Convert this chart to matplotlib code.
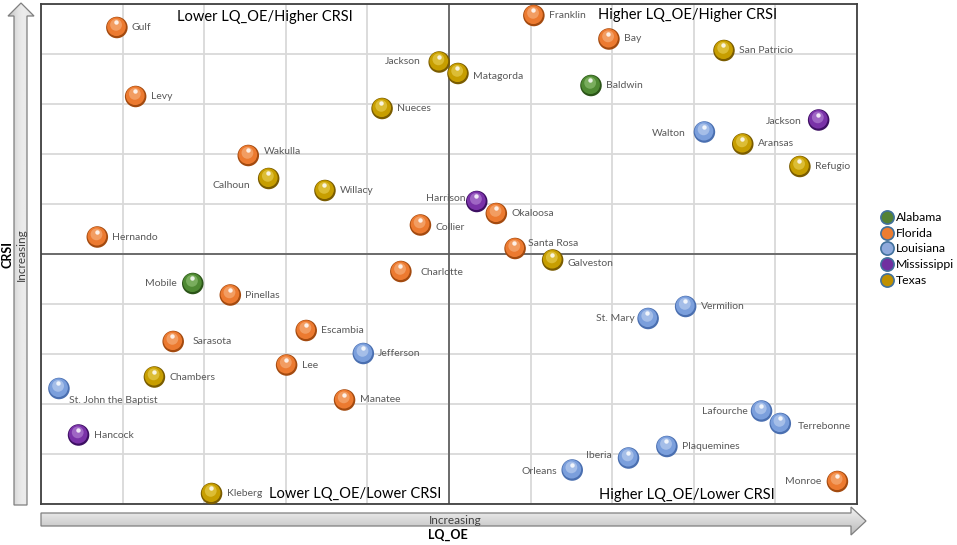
import numpy as np
import matplotlib
matplotlib.use("Agg")
import matplotlib.pyplot as plt
from matplotlib import transforms
from matplotlib.patches import Polygon
from matplotlib.lines import Line2D

plt.rcParams['font.family'] = ['Lato', 'DejaVu Sans']

# county data (LQ_OE on x, CRSI on y, both on a 0-10 grid)
counties = ['Gulf', 'Levy', 'Wakulla', 'Calhoun', 'Willacy', 'Nueces', 'Jackson',
            'Matagorda', 'Harrison', 'Collier', 'Hernando', 'Franklin', 'Bay',
            'San Patricio', 'Baldwin', 'Walton', 'Jackson', 'Aransas', 'Refugio',
            'Okaloosa', 'Santa Rosa', 'Galveston', 'Charlotte', 'Mobile', 'Pinellas',
            'Escambia', 'Sarasota', 'Jefferson', 'Lee', 'Chambers',
            'St. John the Baptist', 'Manatee', 'Hancock', 'Kleberg', 'St. Mary',
            'Vermilion', 'Lafourche', 'Terrebonne', 'Plaquemines', 'Iberia',
            'Orleans', 'Monroe']
states = ['Florida', 'Florida', 'Florida', 'Texas', 'Texas', 'Texas', 'Texas',
          'Texas', 'Mississippi', 'Florida', 'Florida', 'Florida', 'Florida',
          'Texas', 'Alabama', 'Louisiana', 'Mississippi', 'Texas', 'Texas',
          'Florida', 'Florida', 'Texas', 'Florida', 'Alabama', 'Florida',
          'Florida', 'Florida', 'Louisiana', 'Florida', 'Texas',
          'Louisiana', 'Florida', 'Mississippi', 'Texas', 'Louisiana',
          'Louisiana', 'Louisiana', 'Louisiana', 'Louisiana', 'Louisiana',
          'Louisiana', 'Florida']
lq_oe = [0.93, 1.16, 2.54, 2.79, 3.48, 4.18, 4.88, 5.11, 5.34, 4.65, 0.69, 6.04,
         6.96, 8.37, 6.74, 8.13, 9.53, 8.60, 9.30, 5.58, 5.81, 6.27, 4.41, 1.86,
         2.32, 3.25, 1.62, 3.95, 3.01, 1.39, 0.22, 3.72, 0.46, 2.09, 7.44, 7.90,
         8.83, 9.06, 7.67, 7.20, 6.51, 9.76]
crsi = [9.53, 8.15, 6.97, 6.51, 6.27, 7.91, 8.84, 8.61, 6.05, 5.58, 5.34, 9.77,
        9.30, 9.07, 8.37, 7.44, 7.68, 7.20, 6.75, 5.81, 5.11, 4.88, 4.65, 4.41,
        4.18, 3.47, 3.25, 3.01, 2.78, 2.54, 2.31, 2.08, 1.38, 0.21, 3.71, 3.95,
        1.86, 1.61, 1.15, 0.92, 0.68, 0.45]
state_names = ['Alabama', 'Florida', 'Louisiana', 'Mississippi', 'Texas']
quadrants = ['Lower LQ_OE/Higher CRSI', 'Higher LQ_OE/Higher CRSI',
             'Lower LQ_OE/Lower CRSI', 'Higher LQ_OE/Lower CRSI']

# sphere colours: (dark rim, body, highlight)
sphere = {'Alabama': ('#2b5418', '#4f8a33', '#a3d088'),
          'Florida': ('#a34a0f', '#ec7a30', '#f9c195'),
          'Louisiana': ('#4a6fb0', '#7b9fdc', '#d0def5'),
          'Mississippi': ('#3d0f62', '#7a32a8', '#c49be0'),
          'Texas': ('#7a5c00', '#c79e00', '#f2dc6a')}
flat = {'Alabama': '#548235', 'Florida': '#ed7d31', 'Louisiana': '#8faadc',
        'Mississippi': '#7030a0', 'Texas': '#bf9000'}

# label placement (pixels from marker centre); default is to the right
lab_off = {2: (16, 4), 3: (-19, -7, 'r'), 6: (-19, 0, 'r'), 7: (15, -3),
           8: (-11, 3, 'r'), 9: (15, -3), 15: (-19, -1, 'r'), 16: (-17, -2, 'r'),
           20: (13, 5), 21: (15, -4), 22: (20, -1), 23: (-16, 0, 'r'),
           26: (19, 0), 30: (10, -12), 34: (-13, 0, 'r'), 36: (-14, -1, 'r'),
           37: (17, -3), 39: (-17, 2, 'r'), 40: (-15, -1, 'r'), 41: (-16, 0, 'r')}

fig = plt.figure(figsize=(9.57, 5.45), dpi=100)

# decoration layer in pixel coordinates
deco = fig.add_axes([0, 0, 1, 1])
deco.set_xlim(0, 957)
deco.set_ylim(545, 0)
deco.axis('off')


def grad_arrow(pts, horizontal):
    poly = Polygon(pts, closed=True, facecolor='none', edgecolor='#7f7f7f', lw=0.9, zorder=3)
    deco.add_patch(poly)
    xs = [p[0] for p in pts]
    ys = [p[1] for p in pts]
    g = np.linspace(0, 1, 64)
    if horizontal:
        img = (0.95 - 0.22 * g)[:, None] * np.ones((1, 4))
    else:
        img = np.ones((4, 1)) * (0.74 + 0.18 * np.sin(np.pi * g * 0.8))[None, :]
    im = deco.imshow(img, cmap='gray', vmin=0, vmax=1, aspect='auto',
                     extent=(min(xs), max(xs), max(ys), min(ys)), zorder=2,
                     interpolation='bilinear')
    clip = Polygon(pts, closed=True, transform=deco.transData)
    im.set_clip_path(clip)


grad_arrow([(41, 513), (851, 513), (851, 507), (866, 521), (851, 535), (851, 526),
            (41, 526)], True)
grad_arrow([(14, 505), (14, 16), (8, 16), (21, 3), (34, 16), (27, 16), (27, 505)], False)
deco.set_xlim(0, 957)
deco.set_ylim(545, 0)
deco.text(455, 520, 'Increasing', fontsize=8.5, color='#404040', ha='center', va='center')
deco.text(448, 535, 'LQ_OE', fontsize=9, fontweight='bold', ha='center', va='center')
deco.text(21, 255, 'Increasing', fontsize=8.5, color='#404040', ha='center', va='center',
          rotation=90)
deco.text(7, 254, 'CRSI', fontsize=9, fontweight='bold', ha='center', va='center',
          rotation=90)

ax = fig.add_axes([41 / 957, 41 / 545, 816 / 957, 500 / 545])
ax.set_xlim(0, 10)
ax.set_ylim(0, 10)
ax.set_xticks(np.arange(0, 11, 1))
ax.set_yticks(np.arange(0, 11, 1))
ax.tick_params(length=0, labelbottom=False, labelleft=False)
ax.grid(True, color='#d9d9d9', lw=1.3)
ax.set_axisbelow(True)
for s in ax.spines.values():
    s.set_color('#404040')
    s.set_linewidth(1.3)
ax.axvline(5, color='#595959', lw=1.2, zorder=1)
ax.axhline(5, color='#595959', lw=1.2, zorder=1)

x = np.array(lq_oe)
y = np.array(crsi)
rim = [sphere[s][0] for s in states]
body = [sphere[s][1] for s in states]
hi = [sphere[s][2] for s in states]


def shifted(dx, dy):
    return transforms.offset_copy(ax.transData, fig=fig, x=dx, y=dy, units='points')


ax.scatter(x, y, s=15.5 ** 2, c=rim, lw=0, zorder=3, clip_on=False)
ax.scatter(x, y, s=13.5 ** 2, c=body, lw=0, zorder=4, clip_on=False,
           transform=shifted(-0.3, 0.6))
ax.scatter(x, y, s=8.5 ** 2, c=hi, lw=0, zorder=5, alpha=0.5, clip_on=False,
           transform=shifted(-0.6, 1.9))
ax.scatter(x, y, s=3.2 ** 2, c='white', lw=0, zorder=6, alpha=0.85, clip_on=False,
           transform=shifted(-0.5, 3.8))

for i, name in enumerate(counties):
    o = lab_off.get(i, (15, 0))
    ha = 'right' if len(o) == 3 else 'left'
    ax.annotate(name, (x[i], y[i]), xytext=(o[0] * 0.72, o[1] * 0.72),
                textcoords='offset points', ha=ha, va='center', fontsize=7.5,
                color='#595959', zorder=7)

qx = [2.74, 7.92, 3.85, 7.91]
qy = [9.74, 9.78, 0.2, 0.18]
for t, qxx, qyy in zip(quadrants, qx, qy):
    ax.text(qxx, qyy, t, fontsize=10.5, ha='center', va='center', color='black', zorder=8)

handles = [Line2D([], [], marker='o', ls='none', markersize=9.5, markerfacecolor=flat[s],
                  markeredgecolor='#41719c', markeredgewidth=1.2) for s in state_names]
fig.legend(handles, state_names, loc='center left', bbox_to_anchor=(876 / 957, 296 / 545),
           frameon=False, fontsize=8.8, handletextpad=0.2, labelspacing=0.38,
           handlelength=1.0, borderaxespad=0)

fig.savefig('out.png', dpi=100)
